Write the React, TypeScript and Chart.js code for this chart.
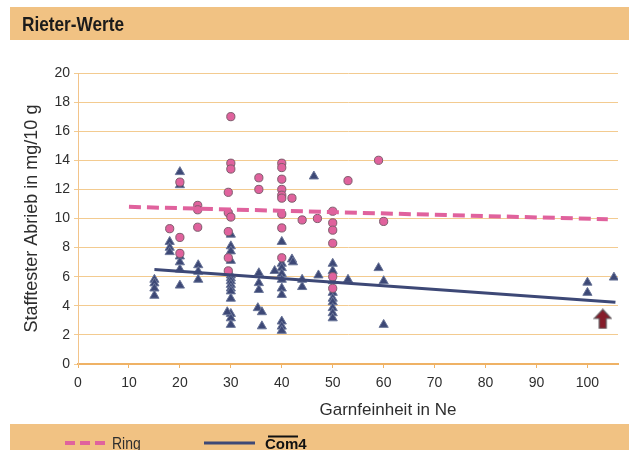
import React, { useEffect, useRef } from 'react';
import { Chart, registerables } from 'chart.js';

Chart.register(...registerables);

// ---- texts ----
const TITLE = 'Rieter-Werte';
const Y_TITLE = 'Stafftester Abrieb in mg/10 g';
const X_TITLE = 'Garnfeinheit in Ne';
const LEGEND_RING = 'Ring';
const LEGEND_COM4 = 'Com4';

// ---- axes ----
const X_MIN = 0;
const X_MAX = 106;
const X_STEP = 10;
const Y_MIN = 0;
const Y_MAX = 20;
const Y_STEP = 2;

// ---- Ring (circles) ----
const ringNe = [
  18, 20, 20, 20, 23.5, 23.5, 23.5,
  29.5, 29.5, 29.5, 29.5, 29.5, 30, 30, 30, 30,
  35.5, 35.5,
  40, 40, 40, 40, 40, 40, 40, 40, 40,
  42, 44, 47,
  50, 50, 50, 50, 50, 50,
  53, 59, 60,
];
const ringAbrieb = [
  9.3, 12.5, 8.7, 7.6, 10.9, 10.6, 9.4,
  11.8, 10.4, 9.1, 7.3, 6.4, 17.0, 13.8, 13.4, 10.1,
  12.8, 12.0,
  13.8, 13.5, 12.7, 12.0, 11.6, 11.4, 10.3, 9.35, 7.3,
  11.4, 9.9, 10.0,
  10.5, 9.7, 9.2, 8.3, 6.0, 5.2,
  12.6, 14.0, 9.8,
];

// ---- Com4 (triangles) ----
const com4Ne = [
  15, 15, 15, 15,
  18, 18, 18,
  20, 20, 20, 20, 20, 20,
  23.6, 23.6, 23.6,
  30, 30, 30, 30, 30, 30, 30, 30, 30, 30, 30, 30, 30, 30, 29.3,
  35.5, 35.5, 35.5, 35.3, 36.1, 36.1,
  38.6,
  40, 40, 40, 40, 40, 40, 40, 40, 40, 40,
  42, 42.2, 44, 44, 46.3, 47.2,
  50, 50, 50, 50, 50, 50, 50, 50, 50,
  53, 59, 60, 60,
  100, 100, 105.2,
];
const com4Abrieb = [
  5.8, 5.55, 5.2, 4.7,
  8.4, 8.0, 7.7,
  13.2, 12.3, 7.4, 7.0, 6.5, 5.4,
  6.8, 6.35, 5.8,
  8.9, 8.1, 7.75, 7.1, 6.1, 5.9, 5.7, 5.45, 5.2, 5.0, 4.5, 3.45, 3.15, 2.7, 3.57,
  6.25, 5.57, 5.1, 3.85, 3.57, 2.6,
  6.4,
  8.4, 6.9, 6.6, 6.2, 5.8, 5.2, 4.76, 2.93, 2.58, 2.29,
  7.2, 7.0, 5.8, 5.3, 12.9, 6.1,
  6.9, 6.4, 5.7, 4.9, 4.5, 4.25, 3.85, 3.5, 3.15,
  5.8, 6.6, 5.7, 2.7,
  5.6, 4.9, 5.95,
];

// ---- trend lines ----
const ringTrendNe = [10, 104];
const ringTrendAbrieb = [10.8, 9.95];
const com4TrendNe = [15, 105.5];
const com4TrendAbrieb = [6.5, 4.25];

// ---- marker arrow ----
const arrowNe = [103];
const arrowAbrieb = [3.1];

const FONT = "'Liberation Sans', Arial, Helvetica, sans-serif";
const BAND = '#F1C283';
const PINK = '#E0629D';
const NAVY = '#3D4876';
const GRID = '#F3CB90';
const TEXT = '#2E2E2E';

const pts = (xs: number[], ys: number[]) => xs.map((x, i) => ({ x, y: ys[i] }));

function scaledText(ctx: CanvasRenderingContext2D, text: string, x: number, y: number, font: string, color: string, sx: number) {
  ctx.save();
  ctx.translate(x, y);
  ctx.scale(sx, 1);
  ctx.font = font;
  ctx.fillStyle = color;
  ctx.textAlign = 'left';
  ctx.textBaseline = 'alphabetic';
  ctx.fillText(text, 0, 0);
  ctx.restore();
}

const decorPlugin = {
  id: 'decor',
  beforeDraw(chart: any) {
    const ctx: CanvasRenderingContext2D = chart.ctx;
    const w = chart.width;
    ctx.save();
    ctx.fillStyle = '#ffffff';
    ctx.fillRect(0, 0, w, chart.height);
    // top band + title
    ctx.fillStyle = BAND;
    ctx.fillRect(10, 7, w - 10, 33);
    scaledText(ctx, TITLE, 22, 31, `bold 21px ${FONT}`, '#1b1b1b', 0.82);
    // bottom band + legend
    ctx.fillStyle = BAND;
    ctx.fillRect(10, 424, w - 10, 26);
    ctx.lineCap = 'butt';
    ctx.strokeStyle = PINK;
    ctx.lineWidth = 4;
    ctx.setLineDash([10, 5]);
    ctx.beginPath();
    ctx.moveTo(65, 443);
    ctx.lineTo(105, 443);
    ctx.stroke();
    ctx.setLineDash([]);
    scaledText(ctx, LEGEND_RING, 112, 449, `17px ${FONT}`, TEXT, 0.82);
    ctx.strokeStyle = NAVY;
    ctx.lineWidth = 3;
    ctx.beginPath();
    ctx.moveTo(204, 443);
    ctx.lineTo(255, 443);
    ctx.stroke();
    scaledText(ctx, LEGEND_COM4, 265, 449, `bold 15px ${FONT}`, '#111111', 1);
    ctx.strokeStyle = '#111111';
    ctx.lineWidth = 2;
    ctx.beginPath();
    ctx.moveTo(268, 436.5);
    ctx.lineTo(298, 436.5);
    ctx.stroke();
    // x axis title
    ctx.font = `17px ${FONT}`;
    ctx.fillStyle = TEXT;
    ctx.textAlign = 'center';
    ctx.textBaseline = 'alphabetic';
    ctx.fillText(X_TITLE, 388, 415);
    ctx.restore();
  },
};

function makeArrow(): HTMLCanvasElement {
  const c = document.createElement('canvas');
  c.width = 19;
  c.height = 21;
  const g = c.getContext('2d')!;
  g.beginPath();
  g.moveTo(9.5, 1);
  g.lineTo(18, 10);
  g.lineTo(13, 10);
  g.lineTo(13, 20);
  g.lineTo(6, 20);
  g.lineTo(6, 10);
  g.lineTo(1, 10);
  g.closePath();
  g.fillStyle = '#861C2A';
  g.fill();
  g.strokeStyle = '#5E5458';
  g.lineWidth = 1.2;
  g.stroke();
  return c;
}

export default function App() {
  const ref = useRef<HTMLCanvasElement | null>(null);

  useEffect(() => {
    if (!ref.current) return;
    const arrow = makeArrow();
    const chart = new Chart(ref.current, {
      type: 'scatter',
      data: {
        datasets: [
          {
            label: 'arrow',
            data: pts(arrowNe, arrowAbrieb),
            pointStyle: arrow as any,
            pointRadius: 10,
            order: 0,
          },
          {
            label: 'Ring trend',
            data: pts(ringTrendNe, ringTrendAbrieb),
            showLine: true,
            borderColor: PINK,
            borderWidth: 4,
            borderDash: [12, 6],
            pointRadius: 0,
            order: 1,
          },
          {
            label: 'Com4 trend',
            data: pts(com4TrendNe, com4TrendAbrieb),
            showLine: true,
            borderColor: NAVY,
            borderWidth: 3,
            pointRadius: 0,
            order: 2,
          },
          {
            label: LEGEND_RING,
            data: pts(ringNe, ringAbrieb),
            pointStyle: 'circle',
            pointRadius: 4.1,
            backgroundColor: PINK,
            borderColor: '#7E5C6C',
            borderWidth: 1,
            order: 3,
          },
          {
            label: LEGEND_COM4,
            data: pts(com4Ne, com4Abrieb),
            pointStyle: 'triangle',
            pointRadius: 5.3,
            backgroundColor: NAVY,
            borderColor: '#6A7598',
            borderWidth: 1,
            order: 4,
          },
        ],
      },
      options: {
        animation: false,
        responsive: false,
        layout: { padding: { top: 73, left: 0, right: 0, bottom: 0 } },
        plugins: {
          legend: { display: false },
          tooltip: { enabled: false },
          title: { display: false },
        },
        scales: {
          x: {
            type: 'linear',
            min: X_MIN,
            max: X_MAX,
            afterFit: (s: any) => { s.height = 86; },
            ticks: {
              stepSize: X_STEP,
              includeBounds: false,
              padding: 7,
              color: TEXT,
              font: { family: FONT, size: 14 },
            },
            grid: {
              drawOnChartArea: false,
              drawTicks: true,
              tickLength: 4,
              tickColor: '#EFB468',
            },
            border: { color: '#EFB265', width: 2 },
          },
          y: {
            type: 'linear',
            min: Y_MIN,
            max: Y_MAX,
            afterFit: (s: any) => { s.width = 78; },
            ticks: {
              stepSize: Y_STEP,
              padding: 4,
              color: TEXT,
              font: { family: FONT, size: 14 },
            },
            grid: {
              color: GRID,
              lineWidth: 1,
              drawTicks: true,
              tickLength: 4,
              tickColor: GRID,
            },
            border: { color: '#F3C48A', width: 1 },
            title: {
              display: true,
              text: Y_TITLE,
              color: TEXT,
              font: { family: FONT, size: 18 },
              padding: { top: 21, bottom: 0 },
            },
          },
        },
      },
      plugins: [decorPlugin],
    });
    return () => chart.destroy();
  }, []);

  return (
    <div style={{ position: 'fixed', left: 0, top: 0, width: 629, height: 450, background: '#fff' }}>
      <canvas ref={ref} width={629} height={450} style={{ display: 'block' }} />
    </div>
  );
}
